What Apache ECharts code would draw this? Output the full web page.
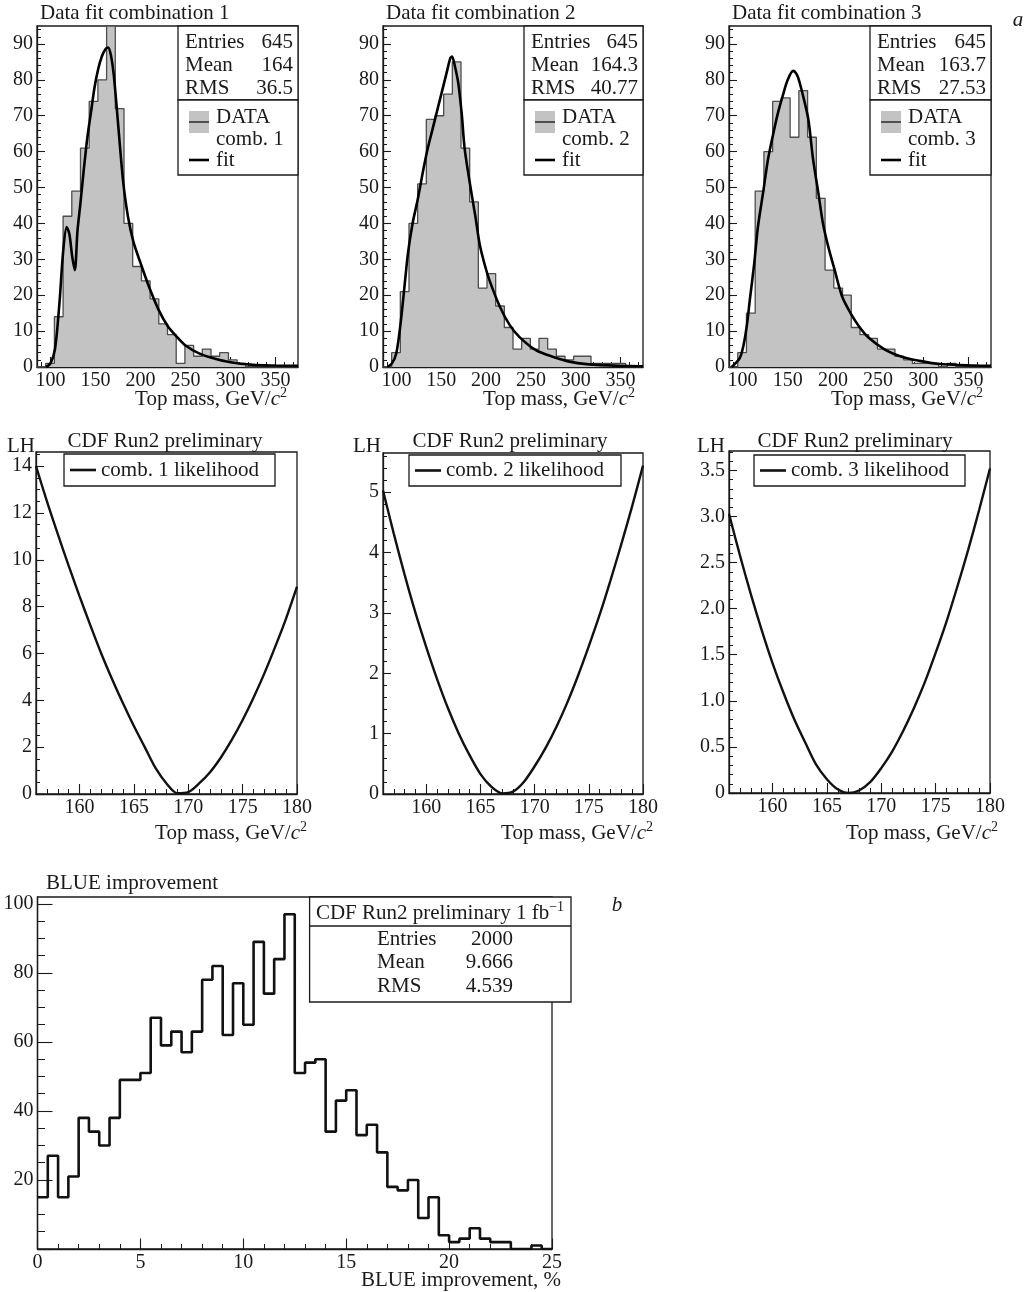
<!DOCTYPE html>
<html>
<head>
<meta charset="utf-8">
<title>Top mass fits, likelihoods and BLUE improvement</title>
<script src="https://cdn.jsdelivr.net/npm/echarts@6/dist/echarts.min.js"></script>
<style>
  html, body { margin: 0; padding: 0; background: #fff; }
  #chart { width: 1032px; height: 1292px; }
</style>
</head>
<body>
<div id="chart"></div>
<script>
// ---- values ----
// top row: 30 bins from 85 to 375 GeV/c^2
const massRange = [85, 375];
const massTicks = [100, 150, 200, 250, 300, 350];
const countTicks = [0, 10, 20, 30, 40, 50, 60, 70, 80, 90];

const comb1Counts = [0, 1, 14, 42, 49, 61, 74, 80, 95, 72, 40, 28, 24, 19, 12, 9, 1, 6, 3, 5, 3, 4, 2, 1, 0, 0, 0, 0, 0, 0];
const comb2Counts = [0, 4, 21, 40, 51, 69, 70, 76, 85, 61, 46, 22, 26, 17, 11, 5, 8, 5, 8, 5, 3, 2, 3, 3, 1, 1, 1, 1, 0, 0];
const comb3Counts = [0, 4, 15, 49, 60, 74, 75, 64, 77, 64, 47, 27, 22, 20, 11, 9, 8, 5, 5, 3, 2, 1, 1, 1, 0, 1, 0, 0, 0, 0];

const comb1Fit = [[95, 0], [100, 1], [105, 5], [110, 18], [114, 32], [118, 39], [121, 37], [124, 31], [127, 27],
  [130, 38], [133, 45], [137, 55], [141, 64], [145, 71], [149, 78], [153, 83], [157, 86.5], [161, 88.5], [164, 89],
  [167, 87], [170, 82], [173, 74], [177, 62], [181, 51], [186, 42], [192, 35], [200, 29], [210, 22], [220, 16],
  [230, 11.5], [240, 8.5], [250, 6], [265, 3.8], [280, 2.5], [300, 1.3], [325, 0.6], [350, 0.4], [375, 0.3]];
const comb2Fit = [[90, 0], [95, 1], [100, 4], [105, 13], [110, 25], [113, 32], [118, 40], [124, 47], [130, 55],
  [135, 61], [140, 66], [146, 72], [151, 77], [156, 82], [160, 86], [162, 86.5], [165, 84], [169, 79], [173, 70],
  [176, 61], [182, 51], [188, 42], [193, 34], [199, 28], [204, 24], [215, 17], [226, 11.8], [237, 8.4], [256, 4.6],
  [275, 2.8], [293, 1.5], [312, 0.8], [349, 0.3], [375, 0.2]];
const comb3Fit = [[88, 0], [92, 1], [97, 2.5], [101, 6], [105, 12], [108, 18.6], [113, 29], [117, 39], [123, 49],
  [128, 57.6], [134, 65], [139, 70.6], [145, 76], [150, 80], [156, 82.5], [160, 81.5], [163, 79.4], [168, 74.5],
  [173, 68.7], [178, 58], [184, 48.3], [189, 40], [195, 33.4], [202, 27], [210, 19.8], [220, 14.8], [229, 11.3],
  [239, 8.3], [258, 4.8], [277, 2.8], [296, 1.7], [316, 0.9], [355, 0.4], [375, 0.3]];

const comb1Stats = ['645', '164', '36.5'];
const comb2Stats = ['645', '164.3', '40.77'];
const comb3Stats = ['645', '163.7', '27.53'];
const statNames = ['Entries', 'Mean', 'RMS'];

// middle row: likelihood scans, one reading per GeV from 156 to 180
const lhMass = [156, 157, 158, 159, 160, 161, 162, 163, 164, 165, 166, 167, 168,
  169, 170, 171, 172, 173, 174, 175, 176, 177, 178, 179, 180];
const lhMassTicks = [160, 165, 170, 175, 180];
const lh1Ticks = [0, 2, 4, 6, 8, 10, 12, 14];
const lh2Ticks = [0, 1, 2, 3, 4, 5];
const lh3Ticks = [0, 0.5, 1, 1.5, 2, 2.5, 3, 3.5];

const lh1Values = [14.0, 12.5, 11.1, 9.75, 8.45, 7.2, 6.0, 4.9, 3.87, 2.9, 2.0, 1.1, 0.45,
  0.03, 0.08, 0.45, 0.93, 1.56, 2.31, 3.16, 4.11, 5.15, 6.29, 7.5, 8.85];
const lh2Values = [5.03, 4.31, 3.63, 3.0, 2.43, 1.9, 1.42, 1.0, 0.64, 0.33, 0.12, 0.01, 0.04,
  0.2, 0.46, 0.76, 1.11, 1.51, 1.96, 2.45, 2.97, 3.54, 4.14, 4.77, 5.44];
const lh3Values = [3.03, 2.58, 2.16, 1.77, 1.41, 1.09, 0.8, 0.55, 0.31, 0.15, 0.04, 0.0, 0.03,
  0.12, 0.27, 0.45, 0.67, 0.92, 1.2, 1.52, 1.86, 2.24, 2.64, 3.07, 3.52];

// bottom: BLUE improvement, 50 bins of 0.5 %
const blueRange = [0, 25];
const blueCounts = [15, 27, 15, 21, 38, 34, 30, 38, 49, 49, 51, 67, 59, 63, 57, 63, 78, 82, 62, 77, 65, 89, 74, 84, 97,
  51, 54, 55, 34, 43, 46, 33, 36, 28, 18, 17, 20, 9, 15, 4, 2, 3, 6, 3, 2, 2, 0, 0, 1, 0];
const blueTicksX = [0, 5, 10, 15, 20, 25];
const blueTicksY = [0, 20, 40, 60, 80, 100];
const blueLabelsY = [20, 40, 60, 80, 100];
const blueStats = ['2000', '9.666', '4.539'];

// ---- drawing ----
const INK = '#1a1a1a';
const FONT = '"Liberation Serif", "Times New Roman", serif';

const grids = [], xAxes = [], yAxes = [], series = [], graphics = [];

function steps(from, to, step) {
  const out = [];
  for (let v = from; v <= to + 1e-9; v += step) out.push(+v.toFixed(3));
  return out;
}

function histPoints(range, counts) {
  const w = (range[1] - range[0]) / counts.length;
  const pts = counts.map((c, i) => [range[0] + i * w, c]);
  pts.push([range[1], counts[counts.length - 1]]);
  return pts;
}

function mainAxis(g, position, a) {
  return {
    type: 'value', gridIndex: g, position, min: a.min, max: a.max,
    axisLine: { show: true, onZero: false, lineStyle: { color: INK, width: 1.3 } },
    axisTick: { show: true, inside: true, length: a.major, customValues: a.ticks, lineStyle: { color: INK, width: 1.1 } },
    axisLabel: {
      show: true, customValues: a.labels || a.ticks, color: INK, fontFamily: FONT, fontSize: 20,
      margin: 4, formatter: a.format || (v => String(v))
    },
    splitLine: { show: false }
  };
}

function minorAxis(g, position, a) {
  return {
    type: 'value', gridIndex: g, position, min: a.min, max: a.max,
    axisLine: { show: false },
    axisTick: { show: true, inside: true, length: a.minor, customValues: a.minorTicks, lineStyle: { color: INK, width: 1 } },
    axisLabel: { show: false },
    splitLine: { show: false }
  };
}

// each panel gets a visible grid with the major axes and a hidden twin for the minor ticks
function addPanel(box, x, y) {
  const g = grids.length;
  const rect = { left: box[0], top: box[1], width: box[2], height: box[3], containLabel: false, outerBoundsMode: 'none' };
  grids.push(Object.assign({ show: true, borderColor: INK, borderWidth: 1.3, backgroundColor: 'transparent' }, rect));
  grids.push(Object.assign({ show: false }, rect));
  const xi = xAxes.length, yi = yAxes.length;
  xAxes.push(mainAxis(g, 'bottom', x), minorAxis(g + 1, 'bottom', x));
  yAxes.push(mainAxis(g, 'left', y), minorAxis(g + 1, 'left', y));
  return { xi, yi };
}

function text(x, y, str, opt) {
  graphics.push({
    type: 'text', x, y, z: 10, silent: true,
    style: Object.assign({ text: str, fill: INK, fontFamily: FONT, fontSize: 21, align: 'left', verticalAlign: 'middle' }, opt || {})
  });
}
function rect(x, y, w, h, opt) {
  graphics.push({
    type: 'rect', z: 9, silent: true, shape: { x, y, width: w, height: h },
    style: Object.assign({ fill: '#fff', stroke: INK, lineWidth: 1.3 }, opt || {})
  });
}
function seg(x1, y1, x2, y2, color, width) {
  graphics.push({ type: 'line', z: 11, silent: true, shape: { x1, y1, x2, y2 }, style: { stroke: color, lineWidth: width } });
}
function supText(x, y, main, italic, sup, align) {
  const base = { fontFamily: FONT, fontSize: 21, fill: INK, lineHeight: 24, verticalAlign: 'bottom' };
  graphics.push({
    type: 'text', x, y, z: 10, silent: true,
    style: {
      text: '{n|' + main + '}' + (italic ? '{i|' + italic + '}' : '') + '{s|' + sup + '}',
      align: align, verticalAlign: 'middle',
      rich: {
        n: base,
        i: Object.assign({}, base, { fontStyle: 'italic' }),
        s: { fontFamily: FONT, fontSize: 14, fill: INK, lineHeight: 24, verticalAlign: 'top' }
      }
    }
  });
}

// --- top row: data fits ---
const massX = { min: massRange[0], max: massRange[1], ticks: massTicks, minorTicks: steps(90, 370, 10), major: 10, minor: 5 };
const countY = { min: 0, max: 95, ticks: countTicks, minorTicks: steps(0, 94, 2), major: 8, minor: 4 };

const topPanels = [
  { box: [37, 26, 261, 341], title: 'Data fit combination 1', counts: comb1Counts, fit: comb1Fit, stats: comb1Stats, name: 'comb. 1', statLeft: 178, titleRight: 287 },
  { box: [383, 26, 260, 341], title: 'Data fit combination 2', counts: comb2Counts, fit: comb2Fit, stats: comb2Stats, name: 'comb. 2', statLeft: 524, titleRight: 635 },
  { box: [729, 26, 262, 341], title: 'Data fit combination 3', counts: comb3Counts, fit: comb3Fit, stats: comb3Stats, name: 'comb. 3', statLeft: 870, titleRight: 983 }
];

topPanels.forEach(p => {
  const ax = addPanel(p.box, massX, countY);
  series.push({
    name: 'DATA ' + p.name, type: 'line', xAxisIndex: ax.xi, yAxisIndex: ax.yi,
    data: histPoints(massRange, p.counts), step: 'end', symbol: 'none', silent: true, z: 2,
    lineStyle: { color: '#4d4d4d', width: 1.3 }, areaStyle: { color: '#c3c3c3', opacity: 1 }
  });
  series.push({
    name: 'fit', type: 'line', xAxisIndex: ax.xi, yAxisIndex: ax.yi,
    data: p.fit, smooth: 0.3, symbol: 'none', silent: true, z: 3,
    lineStyle: { color: '#000', width: 2.6 }
  });

  const right = p.box[0] + p.box[2];
  const L = p.statLeft;
  text(p.box[0] + 3, 13, p.title);
  rect(L, 26, right - L, 74);
  rect(L, 100, right - L, 75);
  statNames.forEach((s, i) => {
    text(L + 7, 42 + i * 23, s);
    text(right - 5, 42 + i * 23, p.stats[i], { align: 'right' });
  });
  rect(L + 11, 111, 20, 22, { fill: '#c3c3c3', stroke: null, lineWidth: 0 });
  seg(L + 11, 122, L + 31, 122, '#333', 1.6);
  text(L + 38, 117, 'DATA');
  text(L + 38, 139, p.name);
  seg(L + 11, 160, L + 31, 160, '#000', 2.6);
  text(L + 38, 160, 'fit');
  supText(p.titleRight, 398, 'Top mass, GeV/', 'c', '2', 'right');
});

// --- middle row: likelihoods ---
const lhX = { min: 156, max: 180, ticks: lhMassTicks, minorTicks: steps(156, 180, 1), major: 10, minor: 5 };
const lhPanels = [
  { box: [36, 452, 261, 342], values: lh1Values, y: { min: 0, max: 14.6, ticks: lh1Ticks, minorTicks: steps(0, 14.5, 0.5), major: 8, minor: 4 },
    legend: [64, 454, 211, 32], label: 'comb. 1 likelihood', titleX: 165, lhX: 7, titleRight: 307 },
  { box: [383, 453, 260, 341], values: lh2Values, y: { min: 0, max: 5.65, ticks: lh2Ticks, minorTicks: steps(0, 5.6, 0.2), major: 8, minor: 4 },
    legend: [409, 455, 212, 31], label: 'comb. 2 likelihood', titleX: 510, lhX: 353, titleRight: 653 },
  { box: [729, 451, 261, 342], values: lh3Values, y: { min: 0, max: 3.71, ticks: lh3Ticks, minorTicks: steps(0, 3.7, 0.1), major: 8, minor: 4,
      format: v => (v === 0 ? '0' : v.toFixed(1)) },
    legend: [754, 455, 211, 31], label: 'comb. 3 likelihood', titleX: 855, lhX: 697, titleRight: 998 }
];

lhPanels.forEach(p => {
  const ax = addPanel(p.box, lhX, p.y);
  series.push({
    name: p.label, type: 'line', xAxisIndex: ax.xi, yAxisIndex: ax.yi,
    data: lhMass.map((m, i) => [m, p.values[i]]), smooth: 0.3, symbol: 'none', silent: true, z: 3,
    lineStyle: { color: '#111', width: 2.4 }
  });
  const lg = p.legend;
  text(p.titleX, 441, 'CDF Run2 preliminary', { align: 'center' });
  text(p.lhX, 446, 'LH');
  rect(lg[0], lg[1], lg[2], lg[3]);
  seg(lg[0] + 6, lg[1] + lg[3] / 2, lg[0] + 32, lg[1] + lg[3] / 2, '#111', 2.6);
  text(lg[0] + 37, lg[1] + lg[3] / 2, p.label);
  supText(p.titleRight, 832, 'Top mass, GeV/', 'c', '2', 'right');
});

// --- bottom: BLUE improvement ---
const blueAx = addPanel([37.5, 897, 514.5, 352],
  { min: blueRange[0], max: blueRange[1], ticks: blueTicksX, minorTicks: steps(0, 25, 1), major: 10.5, minor: 5 },
  { min: 0, max: 102, ticks: blueTicksY, labels: blueLabelsY, minorTicks: steps(0, 100, 5), major: 15, minor: 7.5 });
series.push({
  name: 'BLUE improvement', type: 'line', xAxisIndex: blueAx.xi, yAxisIndex: blueAx.yi,
  data: histPoints(blueRange, blueCounts), step: 'end', symbol: 'none', silent: true, z: 3,
  lineStyle: { color: '#111', width: 2.6 }
});
text(46, 883, 'BLUE improvement');
rect(309.6, 897, 261.4, 105);
seg(309.6, 926, 571, 926, INK, 1.3);
supText(440, 912, 'CDF Run2 preliminary 1 fb', null, '\u22121', 'center');
statNames.forEach((s, i) => {
  text(377, 939.5 + i * 23.3, s);
  text(513, 939.5 + i * 23.3, blueStats[i], { align: 'right' });
});
text(561, 1280, 'BLUE improvement, %', { align: 'right' });

text(1018, 20, 'a', { fontStyle: 'italic', align: 'center' });
text(617, 905, 'b', { fontStyle: 'italic', align: 'center' });

const chart = echarts.init(document.getElementById('chart'), null, { renderer: 'canvas' });
chart.setOption({
  backgroundColor: '#fff',
  animation: false,
  textStyle: { fontFamily: FONT },
  grid: grids,
  xAxis: xAxes,
  yAxis: yAxes,
  series: series,
  graphic: { elements: graphics }
});
</script>
</body>
</html>
